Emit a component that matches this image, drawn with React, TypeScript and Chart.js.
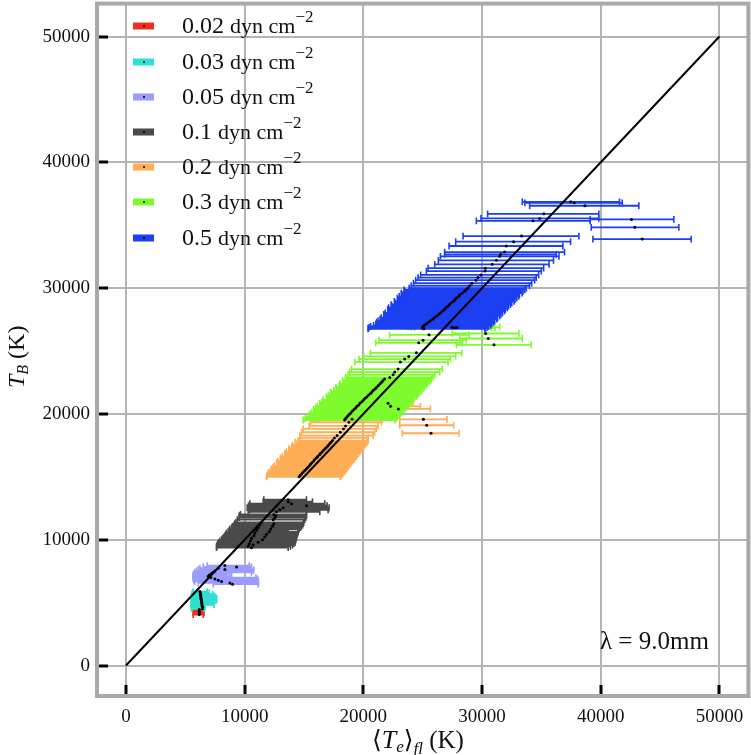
import React, { useEffect, useRef } from "react";
import { Chart, registerables } from "chart.js";

Chart.register(...registerables);

const FONT = '"Liberation Serif", "DejaVu Serif", serif';

const pressures = ["0.02", "0.03", "0.05", "0.1", "0.2", "0.3", "0.5"];
const colors = ["#f0301f", "#2ee0d2", "#9a9cff", "#4a4a4a", "#ffad55", "#7dfb2c", "#1c3ff2"];

const tickValues = [0, 10000, 20000, 30000, 40000, 50000];
const diagonal = [0, 50000];

const redTb = [4456, 4324, 4192, 4060];
const redLo = [5668, 5668, 5668, 5668];
const redHi = [6566, 6566, 6566, 6510];
const redMid = [6173, 6173, 6173, 6173];

const cyanTb = [5883, 5778, 5672, 5566, 5461, 5355, 5249, 5143, 5038, 4932, 4826, 4721, 4615, 4509];
const cyanLo = [5668, 5612, 5556, 5528, 5528, 5528, 5528, 5528, 5528, 5499, 5499, 5499, 5528, 5556];
const cyanHi = [6846, 7015, 7295, 7408, 7520, 7632, 7632, 7576, 7351, 7408, 7408, 6650, 6650, 6566];
const cyanMid = [6229, 6257, 6285, 6285, 6313, 6313, 6341, 6369, 6369, 6397, 6397, 6425, 6453, 6453];

const lavTb = [7945, 7839, 7734, 7628, 7522, 7416, 7311, 7205, 7099, 6994, 6888, 6782, 6676, 6571, 6465];
const lavLo = [6846, 6510, 6229, 6089, 5948, 5808, 5724, 5668, 5668, 5668, 5668, 5724, 5808, 6089, 7351];
const lavHi = [10382, 10578, 10438, 10775, 10719, 10578, 8754, 8474, 8895, 10943, 11055, 11140, 11140, 11168, 11140];
const lavMid = [8334, 9316, 7772, 8334, 7492, 7351, 7211, 7015, 6931, 7155, 7492, 7772, 8053, 8754, 8979];

const grayTb = [
  13178, 13019, 12861, 12702, 12544, 12385, 12227, 12015, 11909, 11751, 11592,
  11381, 11275, 11169, 11064, 10958, 10852, 10747, 10641, 10535, 10429,
  10324, 10218, 10112, 10007, 9901, 9795, 9689, 9584, 9478, 9372,
];
const grayLo = [
  11617, 11560, 10438, 10326, 10214, 10438, 10298, 9652, 9540, 9540, 9372,
  9259, 9175, 9091, 8979, 8895, 8754, 8698, 8614, 8474, 8418,
  8334, 8249, 8137, 8053, 7913, 7828, 7744, 7688, 7632, 7632,
];
const grayHi = [
  15208, 15713, 16752, 16948, 17116, 17032, 16331, 15208, 15208, 15152, 15068,
  14984, 14928, 14871, 14787, 14703, 14591, 13665, 14507, 14479, 14423,
  14366, 14366, 14310, 14310, 14254, 14254, 14142, 14030, 13861, 13665,
];
const grayMid = [
  13665, 13665, 13946, 15208, 13244, 12963, 12683, 12458, 12627, 12543, 12403,
  11420, 12458, 11280, 12346, 11140, 12206, 11000, 12065, 10859, 11841,
  10775, 11701, 10578, 11504, 10494, 11140, 10382, 10719, 10298, 10578,
];

const orangeTb = [
  20845, 20606, 20395, 19576, 19100, 18466, 19585, 19340, 19050, 18810, 18545, 18280, 18090,
  17880, 17750, 17630, 17500, 17380, 17250, 17120, 17000, 16870, 16750, 16620, 16500,
  16370, 16250, 16120, 16000, 15870, 15750, 15620, 15500, 15370, 15250, 15120, 15000,
];
const orangeLo = [
  19980, 20260, 20800, 23065, 23065, 23290, 15910, 15545, 15430, 14930, 14790, 14650, 14650,
  14500, 14260, 14340, 14050, 13960, 13720, 13800, 13510, 13380, 13440, 13170, 13010,
  13090, 12800, 12680, 12750, 12480, 12390, 12230, 12300, 12060, 11980, 11900, 11840,
];
const orangeHi = [
  24187, 24805, 25646, 27050, 27610, 28060, 21606, 21520, 21240, 21100, 20960, 20820, 20400,
  20400, 20300, 20210, 20090, 20000, 19890, 19800, 19700, 19600, 19490, 19400, 19290,
  19200, 19090, 18990, 18890, 18790, 18690, 18590, 18480, 18380, 18270, 18170, 18060,
];
const orangeMid = [
  22082, 22300, 22950, 25057, 25338, 25702, 19050, 18780, 18500, 18320, 18060, 17790, 17560,
  17400, 17270, 17160, 17030, 16930, 16790, 16650, 16540, 16400, 16300, 16150, 16040,
  15900, 15810, 15660, 15550, 15430, 15300, 15190, 15060, 14920, 14810, 14680, 14590,
];

const greenTb = [
  26900, 26870, 26850, 26395, 26290, 25998, 25866, 25655, 25496, 24862, 24571, 24360, 24120,
  23567, 23329, 23117, 22906,
  22770, 22640, 22520, 22390, 22260, 22130, 22010, 21880, 21750, 21630, 21500, 21370, 21250,
  21120, 20990, 20860, 20740, 20610, 20480, 20360, 20230, 20100, 19980, 19850, 19720, 19610, 19520,
];
const greenLo = [
  23765, 24045, 24326, 27500, 22220, 28115, 21325, 21045, 27835, 20595, 20035, 19640, 19277,
  18996, 18856, 18716, 18519,
  18480, 18250, 18310, 18020, 17960, 17690, 17740, 17510, 17230, 17300, 17050, 16880, 16920,
  16620, 16530, 16310, 16410, 16100, 15980, 15800, 15860, 15620, 15490, 15370, 15190, 15080, 14930,
];
const greenHi = [
  31480, 30780, 31100, 33110, 28900, 33390, 28677, 28340, 34150, 28285, 27780, 27330, 27134,
  26656, 26432, 26012, 25870,
  25730, 25640, 25520, 25370, 25290, 25130, 25050, 24890, 24810, 24660, 24540, 24450, 24300,
  24190, 24070, 23950, 23820, 23710, 23590, 23460, 23340, 23210, 23100, 22980, 22850, 22760, 22640,
];
const greenMid = [
  27470, 27890, 27680, 30300, 25535, 30530, 25030, 24665, 31005, 24468, 23823, 23485, 23120,
  22925, 22644, 22504, 22223,
  21790, 21640, 21530, 21410, 21270, 21120, 21010, 20840, 20720, 20600, 20450, 20300, 20150,
  20030, 19900, 19740, 19620, 19470, 19350, 19210, 19080, 18950, 18830, 18700, 18580, 18490, 18420,
];

const blueTb = [
  36860, 36780, 36550, 35910, 35540, 35350, 35460, 34830, 33900, 34140,
  33690, 33350, 32870, 32690, 32530, 32210, 31890, 31590, 31360, 31050,
  30840, 30630, 30390, 30180, 29990, 29860, 29750, 29600, 29480, 29340,
  29210, 29090, 28950, 28830, 28690, 28560, 28440, 28300, 28180, 28040,
  27920, 27790, 27660, 27530, 27400, 27290, 27160, 27040, 26950, 26880,
  26820, 26770,
];
const blueLo = [
  33390, 33610, 34010, 30470, 29910, 29520, 39110, 39200, 39340, 28400,
  27780, 27220, 26850, 26850, 26490, 26320, 26010, 25450, 25310, 24830,
  24610, 24410, 24220, 24020, 23850, 23420, 23500, 23190, 23310, 23020,
  22860, 22930, 22610, 22680, 22340, 22410, 22130, 22050, 22160, 21840,
  21720, 21810, 21500, 21410, 21240, 21120, 21050, 20860, 20620, 20480,
  20420, 20400,
];
const blueHi = [
  41580, 41810, 43210, 39840, 39840, 39110, 46160, 46580, 47620, 38160,
  37460, 36810, 36950, 36250, 36480, 36020, 35650, 35190, 34990, 34770,
  34570, 34430, 34180, 33990, 33730, 33600, 33450, 33380, 33150, 33090,
  32930, 32780, 32700, 32510, 32390, 32230, 32120, 31960, 31880, 31720,
  31600, 31490, 31310, 31240, 31070, 30960, 30830, 30720, 30560, 30430,
  30300, 30240,
];
const blueMid = [
  37460, 37770, 38670, 35210, 34850, 34290, 42590, 42870, 43490, 33330,
  32660, 32040, 31900, 31570, 31480, 31200, 30860, 30280, 30250, 29900,
  29660, 29480, 29150, 28960, 28810, 28620, 28540, 28320, 28110, 28050,
  27850, 27730, 27600, 27410, 27270, 27120, 26960, 26830, 26690, 26500,
  26350, 26200, 26000, 25850, 25650, 25480, 25300, 25130, 25020, 24980,
  25050, 25100,
];

const tbAll = [redTb, cyanTb, lavTb, grayTb, orangeTb, greenTb, blueTb];
const loAll = [redLo, cyanLo, lavLo, grayLo, orangeLo, greenLo, blueLo];
const hiAll = [redHi, cyanHi, lavHi, grayHi, orangeHi, greenHi, blueHi];
const midAll = [redMid, cyanMid, lavMid, grayMid, orangeMid, greenMid, blueMid];

type Run = { t: string; s: number; i?: boolean; dy?: number };

function drawRuns(ctx: CanvasRenderingContext2D, runs: Run[], x: number, y: number) {
  let cx = x;
  ctx.textAlign = "left";
  ctx.textBaseline = "alphabetic";
  ctx.fillStyle = "#111";
  for (const r of runs) {
    ctx.font = `${r.i ? "italic " : ""}${r.s}px ${FONT}`;
    ctx.fillText(r.t, cx, y + (r.dy || 0));
    cx += ctx.measureText(r.t).width;
  }
}

const CANVAS_W = 754;
const CANVAS_H = 757;
const CANVAS_TOP = -2;

const paperPlugin = {
  id: "paper",
  afterDraw(chart: any) {
    const { ctx, chartArea: a } = chart;
    ctx.save();
    ctx.strokeStyle = "#a9a9a9";
    ctx.lineWidth = 4;
    ctx.strokeRect(a.left, a.top, a.right - a.left, a.bottom - a.top);
    ctx.translate(0, -CANVAS_TOP);

    const rowY = [26, 62, 97, 132, 167, 202, 238];
    pressures.forEach((p, i) => {
      const y = rowY[i];
      ctx.fillStyle = colors[i];
      ctx.fillRect(133, y - 3.5, 21, 7);
      ctx.fillStyle = "#000";
      ctx.beginPath();
      ctx.arc(144, y, 1, 0, Math.PI * 2);
      ctx.fill();
      drawRuns(
        ctx,
        [
          { t: `${p} `, s: 24 },
          { t: "dyn cm", s: 22 },
          { t: "\u22122", s: 17, dy: -11 },
        ],
        182,
        y + 7,
      );
    });

    drawRuns(ctx, [{ t: "\u03bb = 9.0mm", s: 25 }], 600, 649);

    drawRuns(
      ctx,
      [
        { t: "\u27e8", s: 25 },
        { t: "T", s: 26, i: true },
        { t: "e", s: 17, i: true, dy: 4 },
        { t: "\u27e9", s: 25 },
        { t: "fl", s: 17, i: true, dy: 6 },
        { t: " (K)", s: 25 },
      ],
      372,
      748,
    );

    ctx.translate(24, 388);
    ctx.rotate(-Math.PI / 2);
    drawRuns(
      ctx,
      [
        { t: "T", s: 24, i: true },
        { t: "B", s: 16, i: true, dy: 4 },
        { t: " (K)", s: 24 },
      ],
      0,
      0,
    );
    ctx.restore();
  },
};

const setTicks = (s: any) => {
  s.ticks = tickValues.map((value) => ({ value }));
};

const clearPadding = (s: any) => {
  s.paddingTop = 0;
  s.paddingBottom = 0;
  s.paddingLeft = 0;
  s.paddingRight = 0;
};

export default function App() {
  const ref = useRef<HTMLCanvasElement | null>(null);

  useEffect(() => {
    document.body.style.margin = "0";
    const datasets: any[] = [];
    pressures.forEach((p, i) => {
      const bars: any[] = [];
      tbAll[i].forEach((tb, k) => {
        bars.push({ x: loAll[i][k], y: tb }, { x: hiAll[i][k], y: tb }, { x: NaN, y: NaN });
      });
      datasets.push({
        label: `${p} dyn cm\u22122`,
        data: bars,
        showLine: true,
        spanGaps: false,
        borderColor: colors[i],
        borderWidth: 1.8,
        pointStyle: "line",
        rotation: 90,
        pointRadius: 3.4,
        pointBorderColor: colors[i],
        pointBorderWidth: 1.6,
        order: 100 - i,
      });
      datasets.push({
        label: `${p} centres`,
        data: tbAll[i].map((tb, k) => ({ x: midAll[i][k], y: tb })),
        showLine: false,
        pointStyle: "circle",
        pointRadius: 1.5,
        pointBackgroundColor: "#000",
        pointBorderWidth: 0,
        order: 50 - i,
      });
    });
    datasets.push({
      label: "equality",
      data: diagonal.map((v) => ({ x: v, y: v })),
      showLine: true,
      borderColor: "#000",
      borderWidth: 2,
      pointRadius: 0,
      order: 1,
    });

    const tickFont = { family: FONT, size: 19 };
    const grid = {
      color: "#b4b4b4",
      lineWidth: 2,
      drawTicks: true,
      tickColor: "#000",
      tickWidth: 3,
      tickLength: -11,
    };

    const chart = new Chart(ref.current as HTMLCanvasElement, {
      type: "scatter",
      data: { datasets },
      options: {
        animation: false,
        responsive: false,
        layout: { padding: 0 },
        plugins: { legend: { display: false }, tooltip: { enabled: false } },
        scales: {
          x: {
            type: "linear",
            min: -2440,
            max: 52440,
            afterBuildTicks: setTicks,
            grid,
            border: { display: false },
            ticks: {
              maxRotation: 0,
              autoSkip: false,
              font: tickFont,
              color: "#111",
              padding: 21,
              callback: (v: any) => String(v),
            },
            afterFit(s: any) {
              s.height = 59;
              clearPadding(s);
            },
          },
          y: {
            type: "linear",
            min: -2420,
            max: 52617,
            afterBuildTicks: setTicks,
            grid,
            border: { display: false },
            ticks: {
              autoSkip: false,
              font: tickFont,
              color: "#111",
              padding: 18,
              callback: (v: any) => String(v),
            },
            afterFit(s: any) {
              s.width = 97;
              clearPadding(s);
            },
          },
        },
      },
      plugins: [paperPlugin],
    } as any);
    return () => chart.destroy();
  }, []);

  return (
    <div style={{ position: "absolute", left: 0, top: 0, width: 751, height: 755, overflow: "hidden", background: "#fff" }}>
      <canvas
        ref={ref}
        width={CANVAS_W}
        height={CANVAS_H}
        style={{ display: "block", position: "absolute", left: 0, top: CANVAS_TOP }}
      />
    </div>
  );
}
